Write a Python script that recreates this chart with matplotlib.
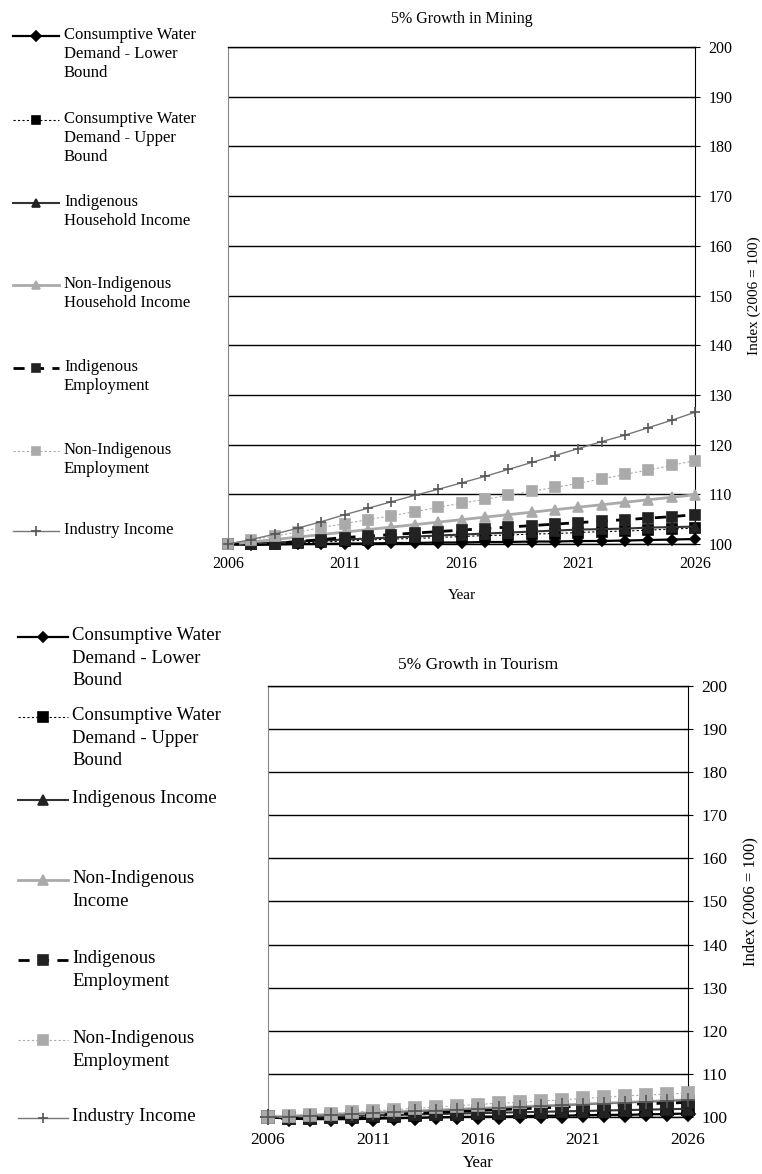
import matplotlib
matplotlib.use("Agg")
import matplotlib.pyplot as plt
from matplotlib.lines import Line2D

plt.rcParams['font.family'] = ['Liberation Serif', 'DejaVu Serif']

years = list(range(2006, 2027))
year_ticks = [2006, 2011, 2016, 2021, 2026]
index_ticks = list(range(100, 201, 10))

# 5% growth in mining
m_cw_lower = [100, 99.8, 99.9, 100.0, 100.0, 100.1, 100.1, 100.2, 100.2, 100.3, 100.3,
              100.4, 100.4, 100.5, 100.5, 100.6, 100.6, 100.7, 100.8, 100.9, 101.0]
m_cw_upper = [100, 99.9, 100.0, 100.2, 100.4, 100.6, 100.8, 101.0, 101.1, 101.3, 101.5,
              101.7, 101.8, 102.0, 102.1, 102.3, 102.5, 102.6, 102.8, 103.0, 103.2]
m_indig_income = [100, 100.1, 100.3, 100.5, 100.7, 100.9, 101.1, 101.3, 101.5, 101.7, 101.9,
                  102.1, 102.3, 102.5, 102.7, 102.9, 103.0, 103.1, 103.3, 103.4, 103.5]
m_nonindig_income = [100, 100.4, 100.9, 101.4, 101.9, 102.4, 102.9, 103.4, 103.9, 104.4, 104.9,
                     105.4, 105.9, 106.4, 106.9, 107.4, 107.9, 108.4, 108.9, 109.4, 109.9]
m_indig_emp = [100, 99.9, 100.1, 100.5, 100.9, 101.3, 101.6, 101.9, 102.2, 102.5, 102.8,
               103.1, 103.4, 103.7, 104.0, 104.3, 104.6, 104.9, 105.2, 105.5, 105.9]
m_nonindig_emp = [100, 100.8, 101.6, 102.4, 103.3, 104.1, 104.9, 105.7, 106.5, 107.4, 108.2,
                  109.0, 109.8, 110.6, 111.4, 112.2, 113.1, 114.0, 114.9, 115.8, 116.8]
m_industry = [100, 100.9, 102.0, 103.2, 104.5, 105.9, 107.2, 108.5, 109.8, 111.0, 112.3,
              113.6, 115.0, 116.4, 117.8, 119.2, 120.6, 121.9, 123.4, 124.9, 126.5]

# 5% growth in tourism
t_cw_lower = [100, 99.6, 99.5, 99.5, 99.5, 99.6, 99.7, 99.8, 99.9, 100.0, 100.1,
              100.1, 100.2, 100.3, 100.3, 100.4, 100.5, 100.5, 100.6, 100.7, 100.8]
t_cw_upper = [100, 99.8, 99.8, 99.9, 100.0, 100.2, 100.3, 100.5, 100.6, 100.8, 100.9,
              101.0, 101.1, 101.2, 101.3, 101.4, 101.5, 101.6, 101.7, 101.8, 101.9]
t_indig_income = [100, 100.0, 100.1, 100.2, 100.3, 100.4, 100.5, 100.6, 100.7, 100.8, 100.9,
                  101.0, 101.1, 101.2, 101.3, 101.4, 101.5, 101.6, 101.7, 101.8, 101.9]
t_nonindig_income = [100, 100.2, 100.4, 100.6, 100.8, 101.0, 101.2, 101.4, 101.6, 101.8, 102.0,
                     102.2, 102.4, 102.6, 102.8, 103.0, 103.2, 103.4, 103.6, 103.8, 104.0]
t_indig_emp = [100, 99.8, 99.8, 100.0, 100.2, 100.5, 100.7, 100.9, 101.1, 101.3, 101.5,
               101.7, 101.9, 102.1, 102.3, 102.5, 102.7, 102.9, 103.1, 103.2, 103.4]
t_nonindig_emp = [100, 100.2, 100.5, 100.8, 101.1, 101.4, 101.7, 102.0, 102.3, 102.6, 102.9,
                  103.2, 103.4, 103.7, 104.0, 104.3, 104.6, 104.9, 105.1, 105.3, 105.6]
t_industry = [100, 100.1, 100.3, 100.5, 100.7, 100.9, 101.1, 101.3, 101.5, 101.7, 101.9,
              102.1, 102.3, 102.5, 102.7, 102.9, 103.1, 103.3, 103.5, 103.7, 104.0]

mining_labels = ["Consumptive Water\nDemand - Lower\nBound",
                 "Consumptive Water\nDemand - Upper\nBound",
                 "Indigenous\nHousehold Income",
                 "Non-Indigenous\nHousehold Income",
                 "Indigenous\nEmployment",
                 "Non-Indigenous\nEmployment",
                 "Industry Income"]
tourism_labels = ["Consumptive Water\nDemand - Lower\nBound",
                  "Consumptive Water\nDemand - Upper\nBound",
                  "Indigenous Income",
                  "Non-Indigenous\nIncome",
                  "Indigenous\nEmployment",
                  "Non-Indigenous\nEmployment",
                  "Industry Income"]

# line styles: colour, width, linestyle, marker, marker colour
styles = [
    dict(color='black', lw=1.6, ls='-', marker='D', mfc='black', mec='black', ms_scale=0.8),
    dict(color='black', lw=0.8, ls=(0, (2, 2)), marker='s', mfc='black', mec='black', ms_scale=1.0),
    dict(color='#333333', lw=1.5, ls='-', marker='^', mfc='#222222', mec='#222222', ms_scale=1.0),
    dict(color='#aaaaaa', lw=2.0, ls='-', marker='^', mfc='#aaaaaa', mec='#aaaaaa', ms_scale=1.0),
    dict(color='black', lw=2.0, ls=(0, (4, 3)), marker='s', mfc='#222222', mec='#222222', ms_scale=1.0),
    dict(color='#aaaaaa', lw=0.8, ls=(0, (2, 2)), marker='s', mfc='#aaaaaa', mec='#aaaaaa', ms_scale=1.0),
    dict(color='#777777', lw=1.0, ls='-', marker='+', mfc='#555555', mec='#555555', ms_scale=1.1),
]

W, H = 762, 1174
fig = plt.figure(figsize=(W / 100, H / 100), dpi=100)


def px(x0, y0, x1, y1):
    return [x0 / W, 1 - y1 / H, (x1 - x0) / W, (y1 - y0) / H]


def panel(rect, series, title, fs, ms, title_pad, xpad, xlabpad, ylabpad):
    ax = fig.add_axes(rect)
    for vals, st in zip(series, styles):
        ax.plot(years, vals, color=st['color'], lw=st['lw'], ls=st['ls'],
                marker=st['marker'], ms=ms * st['ms_scale'], mfc=st['mfc'],
                mec=st['mec'], mew=1.2, clip_on=False, zorder=3)
    ax.set_xlim(2006, 2026)
    ax.set_ylim(100, 200)
    ax.set_xticks(year_ticks)
    ax.set_yticks(index_ticks)
    ax.yaxis.tick_right()
    ax.yaxis.set_label_position('right')
    ax.grid(axis='y', color='black', lw=1.0)
    ax.set_axisbelow(True)
    ax.tick_params(axis='y', direction='inout', length=7, width=0.8, labelsize=fs, pad=6)
    ax.tick_params(axis='x', length=0, labelsize=fs, pad=xpad)
    for s in ['top', 'bottom']:
        ax.spines[s].set_color('black')
        ax.spines[s].set_linewidth(1.0)
    ax.spines['left'].set_color('#888888')
    ax.spines['left'].set_linewidth(0.8)
    ax.spines['right'].set_color('black')
    ax.spines['right'].set_linewidth(0.8)
    ax.set_xlabel('Year', fontsize=fs - 0.5, labelpad=xlabpad)
    ax.set_ylabel('Index (2006 = 100)', fontsize=fs - 0.5, labelpad=ylabpad)
    ax.set_title(title, fontsize=fs, pad=title_pad)
    return ax


def legend(labels, ys, hx0, hx1, tx, fs, lsp, ms):
    em = fs * 100 / 72
    for lab, y, st in zip(labels, ys, styles):
        yf = 1 - y / H
        xs = [hx0 / W, (hx0 + hx1) / 2 / W, hx1 / W]
        fig.add_artist(Line2D(xs, [yf] * 3, transform=fig.transFigure,
                              color=st['color'], lw=st['lw'], ls=st['ls'],
                              marker=st['marker'], markevery=[1], ms=ms * st['ms_scale'],
                              mfc=st['mfc'], mec=st['mec'], mew=1.2))
        fig.text(tx / W, 1 - (y - 0.55 * em) / H, lab, fontsize=fs, va='top', ha='left',
                 linespacing=lsp, transform=fig.transFigure)


panel(px(228, 47, 695, 544),
      [m_cw_lower, m_cw_upper, m_indig_income, m_nonindig_income,
       m_indig_emp, m_nonindig_emp, m_industry],
      '5% Growth in Mining', 11.5, 7, 17, 9, 12, 11)
panel(px(268, 686, 688, 1117),
      [t_cw_lower, t_cw_upper, t_indig_income, t_nonindig_income,
       t_indig_emp, t_nonindig_emp, t_industry],
      '5% Growth in Tourism', 12.5, 9, 12, 11, 5, 11)

legend(mining_labels, [36, 120, 203, 285, 368, 451, 531], 13, 59, 64, 12, 1.27, 6)
legend(tourism_labels, [637, 717, 800, 880, 960, 1040, 1118], 18, 68, 72, 13.5, 1.45, 7)

fig.savefig('out.png', dpi=100)
